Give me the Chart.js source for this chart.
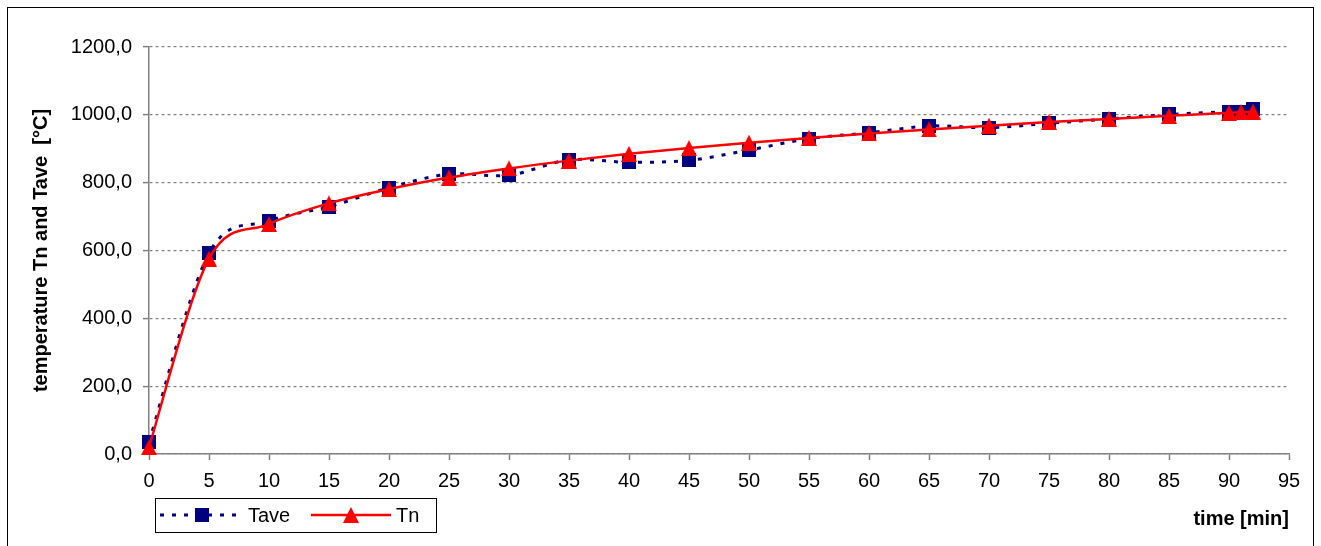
<!DOCTYPE html>
<html>
<head>
<meta charset="utf-8">
<script src="https://cdn.jsdelivr.net/npm/chart.js@4/dist/chart.umd.min.js"></script>
<style>
  body { margin: 0; background: #fff; }
  #wrap { position: relative; width: 1321px; height: 546px; }
</style>
</head>
<body>
<div id="wrap"><canvas id="tempChart" width="1321" height="546"></canvas></div>
<script>
// time in minutes
const timeMin = [0, 5, 10, 15, 20, 25, 30, 35, 40, 45, 50, 55, 60, 65, 70, 75, 80, 85, 90, 91, 92];
// average temperature
const tave = [35, 592, 687, 729, 785, 825, 822, 867, 860, 866, 896, 930, 947, 967, 962, 975, 988, 1001, 1009, 1009, 1016];
// nominal temperature
const tn = [20, 576, 678, 739, 781, 815, 842, 865, 885, 902, 918, 932, 945, 957, 968, 979, 988, 997, 1006, 1008, 1009];

const yTicks = [0, 200, 400, 600, 800, 1000, 1200];
const xTicks = [0, 5, 10, 15, 20, 25, 30, 35, 40, 45, 50, 55, 60, 65, 70, 75, 80, 85, 90, 95];

const navy = "#000080";
const red = "#ff0000";
const fontName = "'Liberation Sans', Arial, sans-serif";

function makeSquare(size, color) {
  const c = document.createElement("canvas");
  c.width = size; c.height = size;
  const g = c.getContext("2d");
  g.fillStyle = color;
  g.fillRect(0, 0, size, size);
  return c;
}

function makeTriangle(w, h, color) {
  const c = document.createElement("canvas");
  c.width = w; c.height = h;
  const g = c.getContext("2d");
  g.fillStyle = color;
  g.beginPath();
  g.moveTo(w / 2, 0);
  g.lineTo(w, h);
  g.lineTo(0, h);
  g.closePath();
  g.fill();
  return c;
}

const squareImg = makeSquare(14, navy);
const triangleImg = makeTriangle(16, 16, red);

function toPoints(values) {
  return timeMin.map((t, i) => ({ x: t, y: values[i] }));
}

// spreadsheet-like smoothing: uniform catmull-rom control points
const smoothPlugin = {
  id: "smooth",
  beforeDatasetDraw(chart, args) {
    const meta = args.meta;
    const line = meta.dataset;
    if (!line) return;
    line.updateControlPoints(chart.chartArea, meta.iScale.axis);
    const pts = line.points;
    const n = pts.length;
    for (let i = 0; i < n; i++) {
      const prev = pts[Math.max(i - 1, 0)];
      const next = pts[Math.min(i + 1, n - 1)];
      const dx = (next.x - prev.x) / 6;
      const dy = (next.y - prev.y) / 6;
      pts[i].cp1x = pts[i].x - dx;
      pts[i].cp1y = pts[i].y - dy;
      pts[i].cp2x = pts[i].x + dx;
      pts[i].cp2y = pts[i].y + dy;
    }
  }
};

// white background + outer frame + legend box
const framePlugin = {
  id: "frame",
  beforeDraw(chart) {
    const ctx = chart.ctx;
    ctx.save();
    ctx.fillStyle = "#fff";
    ctx.fillRect(0, 0, chart.width, chart.height);
    ctx.restore();
  },
  afterDraw(chart) {
    const ctx = chart.ctx;
    ctx.save();
    ctx.strokeStyle = "#000";
    ctx.lineWidth = 1;
    ctx.strokeRect(7.5, 7.5, 1306, 560);

    // legend
    ctx.strokeRect(155.5, 498.5, 281, 34);
    const ly = 515;
    const sets = chart.data.datasets;
    const items = [
      { ds: sets[0], x0: 160, x1: 243, tx: 248 },
      { ds: sets[1], x0: 311, x1: 391, tx: 396 }
    ];
    items.forEach(it => {
      ctx.save();
      ctx.strokeStyle = it.ds.borderColor;
      ctx.lineWidth = it.ds.borderWidth;
      ctx.setLineDash(it.ds.borderDash || []);
      ctx.beginPath();
      ctx.moveTo(it.x0, ly);
      ctx.lineTo(it.x1, ly);
      ctx.stroke();
      ctx.restore();
      const img = it.ds.pointStyle;
      const cx = (it.x0 + it.x1) / 2;
      ctx.drawImage(img, Math.round(cx - img.width / 2), Math.round(ly - img.height / 2));
      ctx.fillStyle = "#000";
      ctx.font = "20px " + fontName;
      ctx.textBaseline = "middle";
      ctx.fillText(it.ds.label, it.tx, ly + 1);
    });
    ctx.restore();
  }
};

const ctx = document.getElementById("tempChart").getContext("2d");
new Chart(ctx, {
  type: "line",
  data: {
    datasets: [
      {
        label: "Tave",
        data: toPoints(tave),
        borderColor: navy,
        borderWidth: 3,
        borderDash: [4, 8],
        pointStyle: squareImg,
        tension: 0.4,
        capBezierPoints: false,
        order: 2,
        clip: false
      },
      {
        label: "Tn",
        data: toPoints(tn),
        borderColor: red,
        borderWidth: 2.5,
        pointStyle: triangleImg,
        tension: 0.4,
        capBezierPoints: false,
        order: 1,
        clip: false
      }
    ]
  },
  options: {
    responsive: false,
    animation: false,
    devicePixelRatio: 1,
    layout: { padding: { left: 0, top: 47, right: 32, bottom: 0 } },
    plugins: {
      legend: { display: false },
      tooltip: { enabled: false }
    },
    scales: {
      x: {
        type: "linear",
        min: 0,
        max: 95,
        afterBuildTicks: axis => { axis.ticks = xTicks.map(v => ({ value: v })); },
        afterFit: axis => { axis.height = 92; },
        border: { color: "#808080", width: 1.5 },
        grid: {
          drawOnChartArea: false,
          drawTicks: true,
          tickLength: 6,
          tickColor: "#808080",
          tickWidth: 1.5
        },
        ticks: {
          color: "#000",
          padding: 9,
          maxRotation: 0,
          font: { family: fontName, size: 20 }
        },
        title: {
          display: true,
          text: "time [min]",
          align: "end",
          color: "#000",
          padding: { top: 0, bottom: 15 },
          font: { family: fontName, size: 20, weight: "bold" }
        }
      },
      y: {
        min: 0,
        max: 1200,
        afterBuildTicks: axis => { axis.ticks = yTicks.map(v => ({ value: v })); },
        afterFit: axis => { axis.width = 149; },
        border: { color: "#808080", width: 1.5, dash: [3, 3] },
        grid: {
          color: "#808080",
          lineWidth: 1.2,
          drawTicks: true,
          tickLength: 6,
          tickColor: "#808080",
          tickWidth: 1.5,
          tickBorderDash: []
        },
        ticks: {
          color: "#000",
          padding: 11,
          font: { family: fontName, size: 20 },
          callback: v => v.toFixed(1).replace(".", ",")
        },
        title: {
          display: true,
          text: "temperature Tn and Tave  [°C]",
          color: "#000",
          padding: { top: 29, bottom: 0 },
          font: { family: fontName, size: 20, weight: "bold" }
        }
      }
    }
  },
  plugins: [smoothPlugin, framePlugin]
});
</script>
</body>
</html>
